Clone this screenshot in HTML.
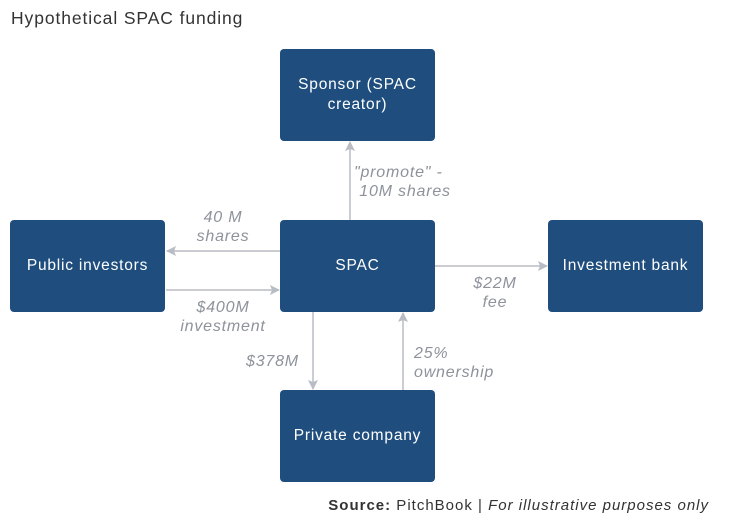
<!DOCTYPE html>
<html><head><style>
body{margin:0;width:749px;height:529px;background:#fff;font-family:"Liberation Sans",sans-serif;position:relative;overflow:hidden}
.b{position:absolute;background:#1f4e7e;color:#fff;border-radius:4px;display:flex;align-items:center;justify-content:center;text-align:center;font-size:15.5px;letter-spacing:0.8px;line-height:20px;width:155px;height:92px}
.l{position:absolute;color:#8d929b;font-style:italic;font-size:16px;letter-spacing:0.8px;line-height:19px;text-align:center}
</style></head><body>
<div style="position:absolute;left:11px;top:8px;font-size:17.5px;letter-spacing:0.9px;color:#333">Hypothetical SPAC funding</div>
<svg width="749" height="529" style="position:absolute;left:0;top:0">
<defs><marker id="a" markerWidth="10" markerHeight="10" refX="9" refY="5" orient="auto" markerUnits="userSpaceOnUse"><path d="M0,0 L10,5 L0,10 L2,5z" fill="#b8bcc4"/></marker></defs>
<g stroke="#b8bcc4" stroke-width="1.5" marker-end="url(#a)">
<line x1="350" y1="220" x2="350" y2="142"/>
<line x1="280" y1="251" x2="167" y2="251"/>
<line x1="166" y1="290" x2="279" y2="290"/>
<line x1="435" y1="266" x2="547" y2="266"/>
<line x1="313" y1="312" x2="313" y2="389"/>
<line x1="403" y1="390" x2="403" y2="313"/>
</g></svg>
<div class="b" style="left:280px;top:49px">Sponsor (SPAC<br>creator)</div>
<div class="b" style="left:10px;top:220px">Public investors</div>
<div class="b" style="left:280px;top:220px">SPAC</div>
<div class="b" style="left:548px;top:220px">Investment bank</div>
<div class="b" style="left:280px;top:390px">Private company</div>
<div class="l" style="left:354px;top:163px;text-align:left">"promote" -<br>&nbsp;10M shares</div>
<div class="l" style="left:173px;top:208px;width:100px">40 M<br>shares</div>
<div class="l" style="left:163px;top:298px;width:120px">$400M<br>investment</div>
<div class="l" style="left:455px;top:274px;width:80px">$22M<br>fee</div>
<div class="l" style="left:246px;top:352px">$378M</div>
<div class="l" style="left:414px;top:344px;text-align:left">25%<br>ownership</div>
<div style="position:absolute;right:40px;top:497px;font-size:15px;letter-spacing:1px;color:#333"><b>Source:</b> PitchBook | <i>For illustrative purposes only</i></div>
</body></html>
